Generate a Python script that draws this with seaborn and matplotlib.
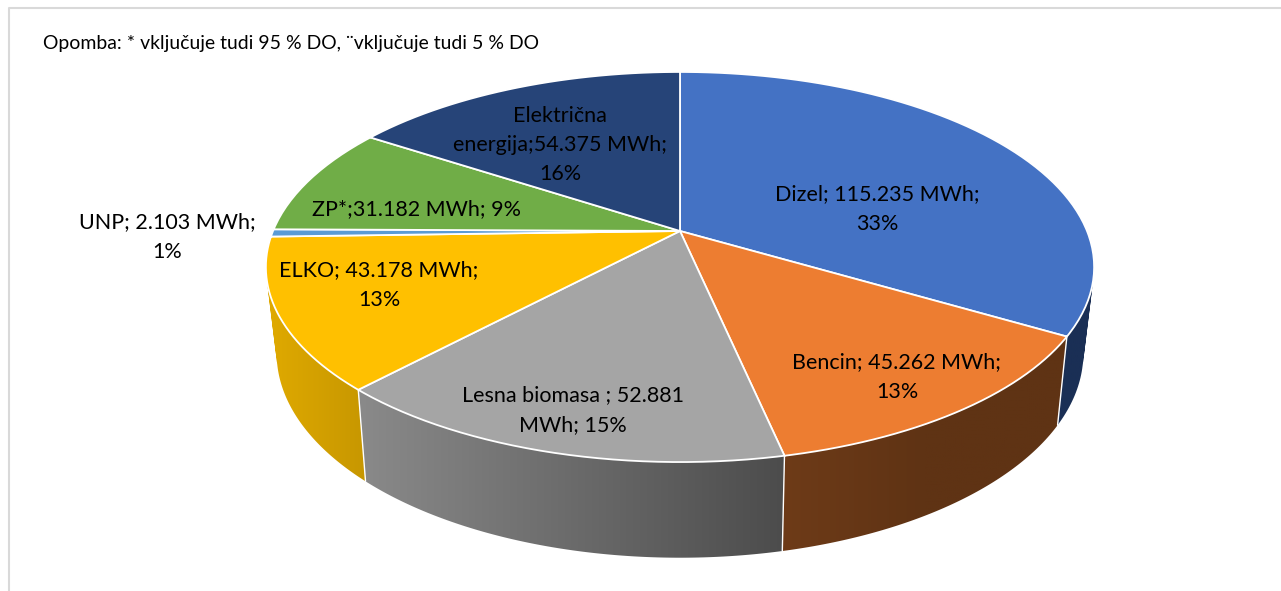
import matplotlib
matplotlib.use('Agg')
import matplotlib.pyplot as plt
import numpy as np
import seaborn as sns
from matplotlib.colors import LinearSegmentedColormap
from matplotlib.path import Path
from matplotlib.patches import PathPatch
from matplotlib.transforms import Transform

# MWh per energy source, clockwise from 12 o'clock
categories = ['Dizel', 'Bencin', 'Lesna biomasa', 'ELKO', 'UNP', 'ZP', 'Električna energija']
values = [115235, 45262, 52881, 43178, 2103, 31182, 54375]
labels = ['Dizel; 115.235 MWh;\n33%',
          'Bencin; 45.262 MWh;\n13%',
          'Lesna biomasa ; 52.881\nMWh; 15%',
          'ELKO; 43.178 MWh;\n13%',
          'UNP; 2.103 MWh;\n1%',
          'ZP*;31.182 MWh; 9%',
          'Električna\nenergija;54.375 MWh;\n16%']
note = 'Opomba: * vključuje tudi 95 % DO, ¨vključuje tudi 5 % DO'

top_colors = ['#4472c4', '#ed7d31', '#a5a5a5', '#ffc000', '#5b9bd5', '#70ad47', '#264478']
wall_colors = [('#1a2f55', '#1a2f55'), ('#6e3b18', '#5f3314', '#5f3314'), ('#8a8a8a', '#4c4c4c'),
               ('#e0aa00', '#c79700'), None, None, None]
label_pos = [(877, 209), (897, 377), (573, 410), (379, 285), (167, 237), (416, 209), (560, 145)]


class Tilt(Transform):
    # perspective view of the unit disc, output in image pixels
    input_dims = output_dims = 2

    def __init__(self, cx, cy, a, b, k):
        super().__init__()
        self.p = (cx, cy, a, b, k)

    def transform_non_affine(self, xy):
        cx, cy, a, b, k = self.p
        xy = np.asarray(xy, dtype=float)
        d = 1 + k * xy[:, 1]
        return np.column_stack([cx + a * xy[:, 0] / d, cy - b * xy[:, 1] / d])

    def transform_path_non_affine(self, path):
        # flatten the arcs first, beziers do not survive a perspective map
        big = Path(path.vertices * 1000, path.codes)
        pts = big.to_polygons(closed_only=False)[0] / 1000
        return Path(self.transform_non_affine(pts))


top = Tilt(680, 231, 407, 188.4, 0.1846)
bottom = Tilt(680, 314.5, 396, 197, 0.19)


def rim(tr, t1, t2):
    t = np.radians(np.linspace(t1, t2, 150))
    return tr.transform_non_affine(np.column_stack([np.cos(t), np.sin(t)]))


def quad(p0, p1, p2, p3):
    # same winding for all, the wall folds over at the silhouette
    q = np.array([p0, p1, p2, p3, p0])
    area = np.sum(q[:-1, 0] * q[1:, 1] - q[1:, 0] * q[:-1, 1])
    if area < 0:
        q = q[::-1]
    return Path(q, closed=True)


sns.set_theme(style='white')
plt.rcParams['font.family'] = ['Lato', 'DejaVu Sans']
palette = sns.color_palette(top_colors)

fig = plt.figure(figsize=(12.81, 5.91), dpi=100)
ax = fig.add_axes([0, 0, 1, 1])

wedges, _ = ax.pie(values, startangle=90, counterclock=False, colors=palette,
                   wedgeprops={'edgecolor': 'white', 'linewidth': 1.3, 'zorder': 5})
ax.set_aspect('auto')
for w in wedges:
    w.set_transform(top + ax.transData)

# side walls as strips of quads, the top face hides the part at the back
for w, cols in zip(wedges, wall_colors):
    if cols is None:
        continue
    up = rim(top, w.theta1, w.theta2)
    down = rim(bottom, w.theta1, w.theta2)
    quads = [quad(up[i], up[i + 1], down[i + 1], down[i]) for i in range(len(up) - 1)]
    clip = PathPatch(Path.make_compound_path(*quads), facecolor='none', edgecolor='none',
                     transform=ax.transData)
    ax.add_patch(clip)
    pts = np.vstack([up, down])
    x0, x1 = pts[:, 0].min(), pts[:, 0].max()
    y0, y1 = pts[:, 1].min(), pts[:, 1].max()
    cmap = LinearSegmentedColormap.from_list('wall', cols)
    im = ax.imshow(np.linspace(0, 1, 256)[None, :], extent=(x0, x1, y1, y0), cmap=cmap,
                   aspect='auto', zorder=2, interpolation='bilinear')
    im.set_clip_path(clip)

# white seams on the wall corners
for t in [wedges[0].theta1, wedges[1].theta1, wedges[2].theta1]:
    a = rim(top, t, t)[0]
    b = rim(bottom, t, t)[0]
    ax.plot([a[0], b[0]], [a[1], b[1]], color='white', lw=1.0, zorder=3)

ax.set_xlim(0, 1281)
ax.set_ylim(591, 0)
ax.axis('off')

# frame of the chart area
ax.plot([9, 9, 1281], [591, 8, 8], color='#d9d9d9', lw=1.5, zorder=1)

for s, (x, y) in zip(labels, label_pos):
    ax.text(x, y, s, ha='center', va='center', fontsize=15.45, color='black',
            linespacing=1.58, zorder=6)
ax.text(43, 44, note, ha='left', va='center', fontsize=13.95, color='black', zorder=6)

fig.savefig('out.png', dpi=100)
